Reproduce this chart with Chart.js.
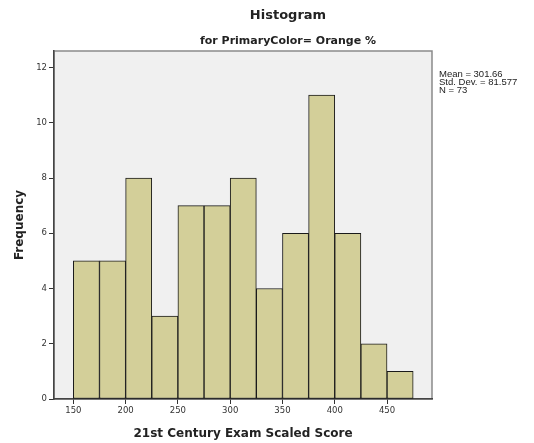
<!DOCTYPE html>
<html>
<head>
<meta charset="utf-8">
<script src="https://cdn.jsdelivr.net/npm/chart.js@4.4.1/dist/chart.umd.min.js"></script>
<style>
  html, body { margin: 0; padding: 0; background: #fff; }
  #wrap { width: 534px; height: 443px; position: relative; }
</style>
</head>
<body>
<div id="wrap"><canvas id="chart"></canvas></div>
<script>
// bin centres (bin width 25) and counts
const binCenters = [162.5, 187.5, 212.5, 237.5, 262.5, 287.5, 312.5, 337.5, 362.5, 387.5, 412.5, 437.5, 462.5]
const frequencies = [5, 5, 8, 3, 7, 7, 8, 4, 6, 11, 6, 2, 1]
const xTickValues = [150, 200, 250, 300, 350, 400, 450]
const yTickValues = [0, 2, 4, 6, 8, 10, 12]
const statsLines = ["Mean = 301.66", "Std. Dev. = 81.577", "N = 73"]

const titleText = "Histogram"
const subtitleText = "for PrimaryColor= Orange %"

const BAR_FILL = "#d3cf99"
const PLOT_BG = "#f0f0f0"
const TEXT = "#222"

const frame = {
  id: "frame",
  beforeDraw(chart) {
    const { ctx, chartArea: a } = chart
    ctx.save()
    ctx.fillStyle = PLOT_BG
    ctx.fillRect(a.left, a.top, a.right - a.left, a.bottom - a.top)
    ctx.strokeStyle = "#8a8a8a"
    ctx.lineWidth = 1.5
    ctx.strokeRect(a.left, a.top, a.right - a.left, a.bottom - a.top)
    ctx.restore()
  },
  afterDraw(chart) {
    const { ctx, chartArea: a } = chart
    ctx.save()
    ctx.fillStyle = TEXT
    ctx.textAlign = "center"
    ctx.textBaseline = "middle"
    ctx.font = "bold 13px 'DejaVu Sans'"
    ctx.fillText(titleText, 288, 16)
    ctx.font = "bold 11px 'DejaVu Sans'"
    ctx.fillText(subtitleText, 288, 41)

    ctx.textAlign = "left"
    ctx.font = "9.5px 'Liberation Sans'"
    statsLines.forEach((line, i) => {
      ctx.fillText(line, a.right + 7, 74 + i * 8)
    })
    ctx.restore()
  },
}

new Chart(document.getElementById("chart"), {
  type: "bar",
  data: {
    datasets: [
      {
        data: binCenters.map((x, i) => ({ x, y: frequencies[i] })),
        backgroundColor: BAR_FILL,
        borderColor: "#1a1a1a",
        borderWidth: 1,
        borderSkipped: false,
        barPercentage: 1,
        categoryPercentage: 1,
      },
    ],
  },
  options: {
    animation: false,
    responsive: true,
    maintainAspectRatio: false,
    layout: { padding: { top: 51, right: 102, left: 0, bottom: 0 } },
    plugins: {
      legend: { display: false },
      tooltip: { enabled: false },
    },
    scales: {
      x: {
        type: "linear",
        offset: false,
        min: 131.5,
        max: 493,
        afterBuildTicks: (scale) => {
          scale.ticks = xTickValues.map((value) => ({ value }))
        },
        afterFit: (scale) => {
          scale.height = 44
        },
        grid: {
          offset: false,
          drawOnChartArea: false,
          drawTicks: true,
          tickLength: 5,
          tickColor: "#333",
          tickWidth: 1,
        },
        border: { color: "#444", width: 1.5 },
        ticks: {
          color: "#333",
          padding: 2,
          maxRotation: 0,
          font: { family: "DejaVu Sans", size: 8.5 },
        },
        title: {
          display: true,
          text: "21st Century Exam Scaled Score",
          color: TEXT,
          padding: { top: 0, bottom: 2 },
          font: { family: "DejaVu Sans", size: 12, weight: "bold" },
        },
      },
      y: {
        min: 0,
        max: 12.6,
        afterBuildTicks: (scale) => {
          scale.ticks = yTickValues.map((value) => ({ value }))
        },
        afterFit: (scale) => {
          scale.width = 54
        },
        grid: {
          drawOnChartArea: false,
          drawTicks: true,
          tickLength: 5,
          tickColor: "#333",
          tickWidth: 1,
        },
        border: { color: "#444", width: 1.5 },
        ticks: {
          color: "#333",
          padding: 2,
          font: { family: "DejaVu Sans", size: 8.5 },
        },
        title: {
          display: true,
          text: "Frequency",
          color: TEXT,
          padding: { top: 13, bottom: 0 },
          font: { family: "DejaVu Sans", size: 12, weight: "bold" },
        },
      },
    },
  },
  plugins: [frame],
})
</script>
</body>
</html>
